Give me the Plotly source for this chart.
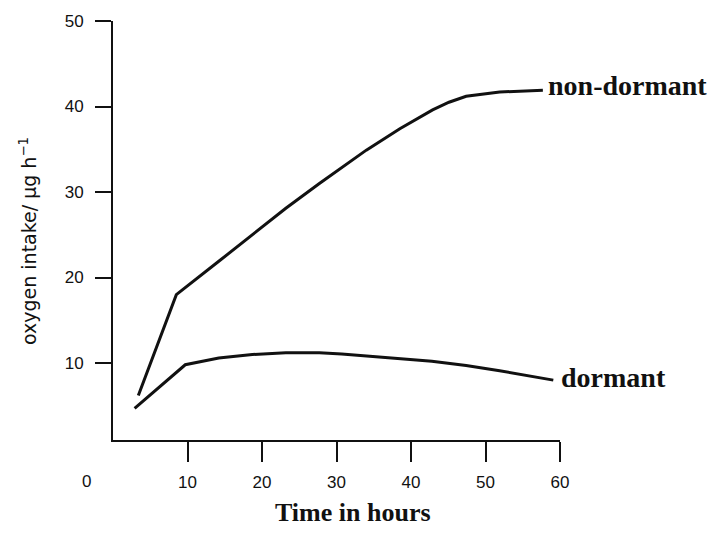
import plotly.graph_objects as go

# Oxygen intake over time
hours_nondormant = [3.4, 8.5, 14.2, 18.7, 23.2, 27.7, 34.0, 38.5, 42.9, 45.1, 47.4, 51.9, 56.3, 57.7]
oxygen_nondormant = [6.2, 18.0, 21.9, 25.0, 28.1, 31.0, 34.9, 37.4, 39.6, 40.5, 41.2, 41.7, 41.9, 41.9]

hours_dormant = [2.9, 9.7, 14.2, 18.7, 23.2, 27.7, 30.7, 35.2, 39.7, 42.8, 47.4, 51.9, 59.1]
oxygen_dormant = [4.7, 9.8, 10.6, 11.0, 11.2, 11.2, 11.05, 10.75, 10.45, 10.2, 9.7, 9.1, 8.0]

x_ticks = [10, 20, 30, 40, 50, 60]
y_ticks = [10, 20, 30, 40, 50]

INK = "#111111"

fig = go.Figure()
fig.add_trace(go.Scatter(x=hours_nondormant, y=oxygen_nondormant, mode="lines",
                         line=dict(color=INK, width=3), name="non-dormant", showlegend=False))
fig.add_trace(go.Scatter(x=hours_dormant, y=oxygen_dormant, mode="lines",
                         line=dict(color=INK, width=3), name="dormant", showlegend=False))

serif = "Liberation Serif"
sans = "Liberation Sans"

fig.add_annotation(x=hours_nondormant[-1], y=oxygen_nondormant[-1], xref="x", yref="y",
                   text="<b>non-dormant</b>", showarrow=False, xanchor="left", yanchor="middle",
                   xshift=3, yshift=5, font=dict(family=serif, size=28, color=INK))
fig.add_annotation(x=hours_dormant[-1], y=oxygen_dormant[-1], xref="x", yref="y",
                   text="<b>dormant</b>", showarrow=False, xanchor="left", yanchor="middle",
                   xshift=6, yshift=3, font=dict(family=serif, size=28, color=INK))

fig.add_annotation(x=0.536, y=-0.172, xref="paper", yref="paper", text="<b>Time in hours</b>",
                   showarrow=False, xanchor="center", yanchor="middle",
                   font=dict(family=serif, size=26, color=INK))
fig.add_annotation(x=-0.19, y=0.475, xref="paper", yref="paper",
                   text="oxygen intake/ µg h<sup>−1</sup>", textangle=-90,
                   showarrow=False, xanchor="center", yanchor="middle",
                   font=dict(family="DejaVu Sans", size=19, color=INK))
fig.add_annotation(x=-0.06, y=-0.099, xref="paper", yref="paper", text="0",
                   showarrow=False, xanchor="center", yanchor="middle",
                   font=dict(family=sans, size=17, color=INK))

fig.update_xaxes(range=[0, 60], tickvals=x_ticks, ticks="outside", ticklen=20, tickwidth=2,
                 tickcolor=INK, showline=True, linecolor=INK, linewidth=2, showgrid=False,
                 zeroline=False, ticklabelstandoff=6,
                 tickfont=dict(family=sans, size=17, color=INK))
fig.update_yaxes(range=[1, 50], tickvals=y_ticks, ticks="outside", ticklen=16, tickwidth=2,
                 tickcolor=INK, showline=True, linecolor=INK, linewidth=2, showgrid=False,
                 zeroline=False, ticklabelstandoff=8,
                 tickfont=dict(family=sans, size=17, color=INK))

fig.update_layout(width=711, height=533, margin=dict(l=113, r=151, t=15, b=93),
                  plot_bgcolor="white", paper_bgcolor="white", showlegend=False)

fig.write_html("out.html", config={"displayModeBar": False},
               post_script="document.body.style.margin='0px';")
